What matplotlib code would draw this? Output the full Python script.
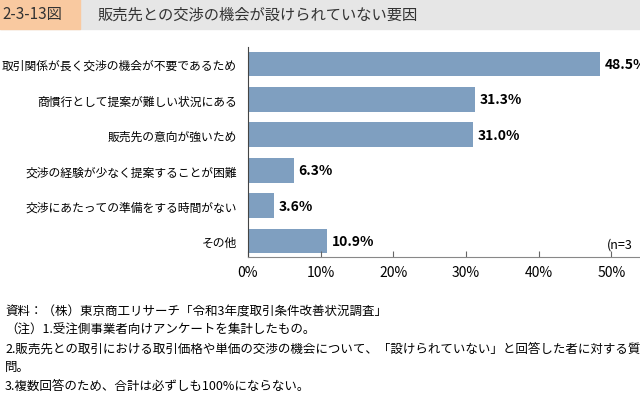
import matplotlib.pyplot as plt
import matplotlib.patches as patches

plt.rcParams['font.family'] = 'Noto Sans CJK JP'

categories = ['取引関係が長く交渉の機会が不要であるため', '商慣行として提案が難しい状況にある',
              '販売先の意向が強いため', '交渉の経験が少なく提案することが困難',
              '交渉にあたっての準備をする時間がない', 'その他']
values = [48.5, 31.3, 31.0, 6.3, 3.6, 10.9]
ticks = [0, 10, 20, 30, 40, 50, 60]

fig = plt.figure(figsize=(6.4, 4.02), dpi=100)

# header band
fig.patches.append(patches.Rectangle((0, 1 - 30/402), 1, 30/402, transform=fig.transFigure,
                                     color='#e6e6e6', zorder=0))
fig.patches.append(patches.Rectangle((0, 1 - 30/402), 80/640, 30/402, transform=fig.transFigure,
                                     color='#f9c9a0', zorder=0))
fig.text(2/640, 1 - 15/402, '2-3-13図', fontsize=11, va='center', ha='left', color='#333333')
fig.text(97/640, 1 - 15/402, '販売先との交渉の機会が設けられていない要因', fontsize=11,
         va='center', ha='left', color='#333333')

ax = fig.add_axes([248/640, 1 - 258/402, 436/640, 210/402])
y = range(len(categories))
ax.barh(y, values, height=0.7, color='#7f9fc0')
for i, v in zip(y, values):
    ax.text(v + 0.6, i, '{:.1f}%'.format(v), va='center', ha='left', fontsize=10, fontweight='bold')
ax.set_ylim(5.45, -0.48)
ax.set_xlim(0, 60)
ax.set_yticks(list(y))
ax.set_yticklabels(categories, fontsize=8.5)
ax.set_xticks(ticks)
ax.set_xticklabels(['{}%'.format(t) for t in ticks], fontsize=10)
ax.tick_params(axis='y', length=0, pad=8)
ax.tick_params(axis='x', direction='in', length=4, pad=6, color='#666666')
for s in ['top', 'right']:
    ax.spines[s].set_visible(False)
ax.spines['left'].set_color('#444444')
ax.spines['bottom'].set_color('#888888')
fig.text(607/640, 1 - 245/402, '(n=3', fontsize=9, ha='left', va='center')

notes = ['資料：（株）東京商工リサーチ「令和3年度取引条件改善状況調査」',
         '（注）1.受注側事業者向けアンケートを集計したもの。',
         '2.販売先との取引における取引価格や単価の交渉の機会について、「設けられていない」と回答した者に対する質',
         '問。',
         '3.複数回答のため、合計は必ずしも100%にならない。']
ys = [312, 330, 349, 367, 386]
for t, yy in zip(notes, ys):
    fig.text(5/640, 1 - yy/402, t, fontsize=9, va='center', ha='left')

fig.savefig('out.png', dpi=100)
